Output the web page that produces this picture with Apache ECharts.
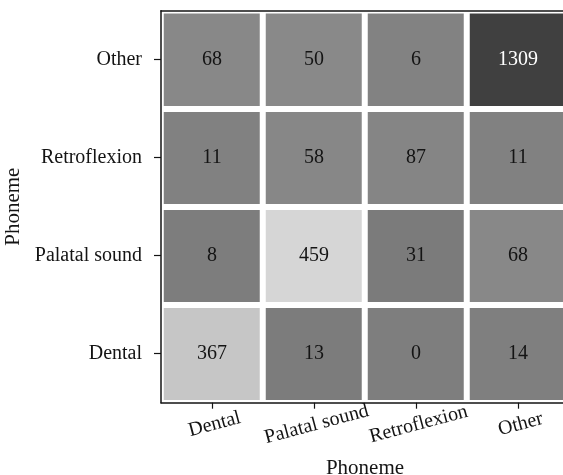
<!DOCTYPE html>
<html>
<head>
<meta charset="utf-8">
<script src="https://cdn.jsdelivr.net/npm/echarts@6/dist/echarts.min.js"></script>
<style>html,body{margin:0;padding:0;background:#fff}#c{width:563px;height:475px}</style>
</head>
<body>
<div id="c"></div>
<script>
// Categories
const xCategories = ["Dental", "Palatal sound", "Retroflexion", "Other"];
const yCategories = ["Dental", "Palatal sound", "Retroflexion", "Other"];
// Counts: one array per y row (bottom to top), values along x categories
const rowDental = [367, 13, 0, 14];
const rowPalatal = [8, 459, 31, 68];
const rowRetroflexion = [11, 58, 87, 11];
const rowOther = [68, 50, 6, 1309];
const rows = [rowDental, rowPalatal, rowRetroflexion, rowOther];
const axisTitle = "Phoneme";

// Grey shading per value (as in the reference)
const shadePieces = [
  { value: 0, color: '#7e7e7e' },
  { value: 6, color: '#828282' },
  { value: 8, color: '#7d7d7d' },
  { value: 11, color: '#818181' },
  { value: 13, color: '#7c7c7c' },
  { value: 14, color: '#7f7f7f' },
  { value: 31, color: '#7b7b7b' },
  { value: 50, color: '#898989' },
  { value: 58, color: '#878787' },
  { value: 68, color: '#888888' },
  { value: 87, color: '#858585' },
  { value: 367, color: '#c6c6c6' },
  { value: 459, color: '#d6d6d6' },
  { value: 1309, color: '#404040' }
];

const data = [];
rows.forEach((row, yi) => row.forEach((v, xi) => data.push([xi, yi, v])));

const font = 'Liberation Serif';
const ink = '#141414';

const chart = echarts.init(document.getElementById('c'), null, { renderer: 'canvas' });
chart.setOption({
  backgroundColor: '#ffffff',
  animation: false,
  grid: { left: 161, top: 10.7, width: 408, height: 392, containLabel: false, outerBoundsMode: 'none' },
  xAxis: [{
    type: 'category',
    data: xCategories,
    position: 'bottom',
    z: 10,
    axisLine: { show: true, lineStyle: { color: ink, width: 1.5 } },
    axisTick: { show: true, interval: 0, alignWithLabel: true, length: 6, lineStyle: { color: ink, width: 1.2 } },
    axisLabel: { interval: 0, hideOverlap: false, rotate: 15, align: 'center', verticalAlign: 'top', margin: 12, fontFamily: font, fontSize: 20, color: ink },
    splitLine: { show: false },
    name: axisTitle,
    nameLocation: 'middle',
    nameGap: 55,
    nameTextStyle: { fontFamily: font, fontSize: 21, color: ink }
  }, {
    type: 'category',
    data: xCategories,
    position: 'top',
    z: 10,
    axisLine: { show: true, lineStyle: { color: ink, width: 1.5 } },
    axisTick: { show: false },
    axisLabel: { show: false },
    splitLine: { show: false }
  }],
  yAxis: {
    type: 'category',
    data: yCategories,
    z: 10,
    axisLine: { show: true, lineStyle: { color: ink, width: 1.5 } },
    axisTick: { show: true, interval: 0, alignWithLabel: true, length: 7, lineStyle: { color: ink, width: 1.2 } },
    axisLabel: { interval: 0, margin: 19, fontFamily: font, fontSize: 20, color: ink },
    splitLine: { show: false },
    name: axisTitle,
    nameLocation: 'middle',
    nameRotate: 90,
    nameGap: 116,
    nameTextStyle: { fontFamily: font, fontSize: 21, color: ink }
  },
  visualMap: {
    show: false,
    type: 'piecewise',
    dimension: 2,
    seriesIndex: 0,
    pieces: shadePieces
  },
  series: [{
    type: 'heatmap',
    xAxisIndex: 0,
    data: data,
    itemStyle: { borderColor: '#ffffff', borderWidth: 6 },
    label: {
      show: true,
      fontFamily: font,
      fontSize: 20,
      formatter: p => (p.value[2] > 1000 ? '{w|' : '{k|') + p.value[2] + '}',
      rich: {
        w: { color: '#ffffff', fontFamily: font, fontSize: 20 },
        k: { color: '#141414', fontFamily: font, fontSize: 20 }
      }
    },
    emphasis: { disabled: true }
  }]
});
</script>
</body>
</html>
